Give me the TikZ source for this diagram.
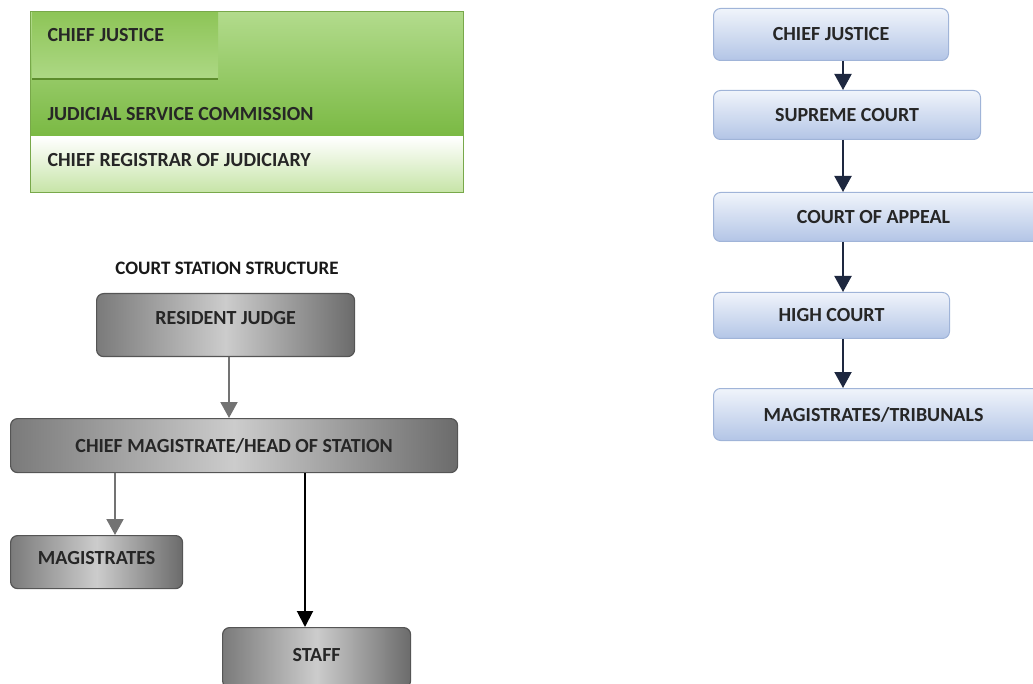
\documentclass[tikz,border=0pt]{standalone}
\usepackage{fontspec}
\setmainfont{Carlito}
\usetikzlibrary{arrows.meta}
\definecolor{navy}{HTML}{1E2840}
\definecolor{bluetop}{HTML}{F0F4FB}
\definecolor{bluebot}{HTML}{B3C5E6}
\definecolor{blueedge}{HTML}{A0B4D8}
\definecolor{greenlite}{HTML}{B2DB8C}
\definecolor{greenmid}{HTML}{8EC558}
\definecolor{greendark}{HTML}{7AB943}
\definecolor{greenedge}{HTML}{78A84A}
\definecolor{greenline}{HTML}{5C8C2C}
\definecolor{greenpale}{HTML}{C6E4A6}
\definecolor{greyedge}{HTML}{555555}
\begin{document}
\begin{tikzpicture}[x=1pt,y=-1pt,
  lbl/.style={font=\bfseries\fontsize{20}{24}\selectfont, text=black!85},
  bluebox/.style={draw=blueedge, line width=1pt, rounded corners=7pt,
    top color=bluetop, bottom color=bluebot, anchor=north west,
    lbl, inner sep=0pt},
  greybox/.style={draw=greyedge, line width=1.2pt, rounded corners=7pt,
    left color=black!52, right color=black!58, middle color=black!20,
    anchor=north west, lbl, inner sep=0pt},
  navyarrow/.style={draw=navy, line width=2pt,
    -{Triangle[width=17pt,length=16pt]}},
  greyarrow/.style={draw=black!55, line width=2pt,
    -{Triangle[width=17pt,length=16pt]}},
  blackarrow/.style={draw=black, line width=2pt,
    -{Triangle[width=16pt,length=16pt]}},
]
\useasboundingbox (0,0) rectangle (1033,684);

% ---------- green panel ----------
\fill[top color=greenlite, bottom color=greendark] (30,12) rectangle (463,137);
\fill[top color=white, bottom color=greenpale] (30,137) rectangle (463,193);
\draw[greenedge, line width=1pt] (30,12) rectangle (463,193);
\fill[top color=greenmid, bottom color=greenlite!85!greenmid] (32,13) rectangle (218,78);
\draw[greenline, line width=2pt] (32,79) -- (218,79);
\node[lbl, anchor=west] (pcj) at (44,35) {CHIEF JUSTICE};
\node[lbl, anchor=west] (jsc) at (44,114) {JUDICIAL SERVICE COMMISSION};
\node[lbl, anchor=west] (crj) at (44,160) {CHIEF REGISTRAR OF JUDICIARY};

% ---------- court hierarchy ----------
\node[bluebox, minimum width=235pt, minimum height=52pt] (cj) at (713,8) {CHIEF JUSTICE};
\node[bluebox, minimum width=267pt, minimum height=49pt] (sc) at (713,90) {SUPREME COURT};
\node[bluebox, minimum width=330pt, minimum height=49pt] (ca) at (713,192) {\hspace*{-10pt}COURT OF APPEAL};
\node[bluebox, minimum width=236pt, minimum height=46pt] (hc) at (713,292) {HIGH COURT};
\node[bluebox, minimum width=330pt, minimum height=52pt] (mt) at (713,388) {\hspace*{-10pt}MAGISTRATES/TRIBUNALS};
\coordinate (ax) at (843,0);
\draw[navyarrow] (cj.south -| ax) -- (sc.north -| ax);
\draw[navyarrow] (sc.south -| ax) -- (ca.north -| ax);
\draw[navyarrow] (ca.south -| ax) -- (hc.north -| ax);
\draw[navyarrow] (hc.south -| ax) -- (mt.north -| ax);

% ---------- court station structure ----------
\node[font=\bfseries\fontsize{19}{22}\selectfont, text=black!90] (title) at (227,268) {COURT STATION STRUCTURE};
\node[greybox, minimum width=258pt, minimum height=63pt] (rj) at (96,293) {RESIDENT JUDGE\raisebox{0pt}[0pt][14pt]{}};
\node[greybox, minimum width=447pt, minimum height=54pt] (cm) at (10,418) {CHIEF MAGISTRATE/HEAD OF STATION};
\node[greybox, minimum width=172pt, minimum height=53pt] (mg) at (10,535) {MAGISTRATES\raisebox{0pt}[0pt][8pt]{}};
\node[greybox, minimum width=188pt, minimum height=60pt] (st) at (222,627) {STAFF\raisebox{0pt}[0pt][6pt]{}};
\coordinate (bx) at (229,0);
\coordinate (mx) at (115,0);
\coordinate (sx) at (305,0);
\draw[greyarrow] (rj.south -| bx) -- (cm.north -| bx);
\draw[greyarrow] (cm.south -| mx) -- (mg.north -| mx);
\draw[blackarrow] (cm.south -| sx) -- (st.north -| sx);
\end{tikzpicture}
\end{document}
